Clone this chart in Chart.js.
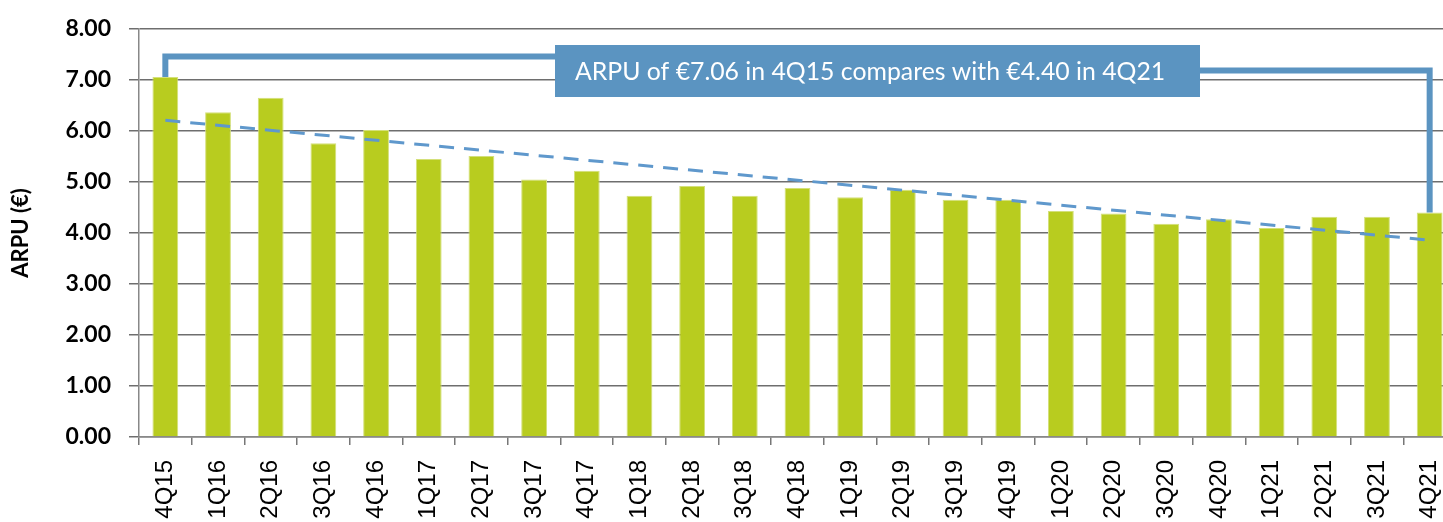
<!DOCTYPE html>
<html>
<head>
<meta charset="utf-8">
<script src="https://cdn.jsdelivr.net/npm/chart.js@4/dist/chart.umd.min.js"></script>
<style>
  html, body { margin: 0; padding: 0; background: #fff; overflow: hidden; }
  #chart { position: absolute; left: 0; top: 0; }
</style>
</head>
<body>
<canvas id="chart" width="1456" height="522"></canvas>
<script>
const quarters = ['4Q15', '1Q16', '2Q16', '3Q16', '4Q16', '1Q17', '2Q17', '3Q17', '4Q17',
  '1Q18', '2Q18', '3Q18', '4Q18', '1Q19', '2Q19', '3Q19', '4Q19', '1Q20', '2Q20', '3Q20',
  '4Q20', '1Q21', '2Q21', '3Q21', '4Q21'];
const arpu = [7.06, 6.37, 6.65, 5.76, 6.02, 5.45, 5.51, 5.05, 5.22, 4.73, 4.92, 4.73, 4.88,
  4.70, 4.85, 4.65, 4.65, 4.43, 4.38, 4.18, 4.27, 4.10, 4.32, 4.32, 4.40];
// trend line: only the two end values, joined straight
const trend = [6.21, null, null, null, null, null, null, null, null, null, null, null, null,
  null, null, null, null, null, null, null, null, null, null, null, 3.86];
const yTicks = [0, 1, 2, 3, 4, 5, 6, 7, 8];
const noteText = 'ARPU of €7.06 in 4Q15 compares with €4.40 in 4Q21';

const blue = '#5b94c1';

const bracket = {
  id: 'bracket',
  afterDraw(chart) {
    const ctx = chart.ctx;
    const x = chart.scales.x, y = chart.scales.y;
    const first = 0, last = arpu.length - 1;
    const x0 = x.getPixelForValue(first), x1 = x.getPixelForValue(last);
    const boxL = 555, boxR = 1200, boxT = 45, boxB = 97;
    const leftY = 56.5, rightY = 70.5;
    ctx.save();
    ctx.strokeStyle = blue;
    ctx.lineWidth = 6;
    ctx.beginPath();
    ctx.moveTo(x0, y.getPixelForValue(arpu[first]));
    ctx.lineTo(x0, leftY);
    ctx.lineTo(boxL, leftY);
    ctx.stroke();
    ctx.beginPath();
    ctx.moveTo(boxR, rightY);
    ctx.lineTo(x1, rightY);
    ctx.lineTo(x1, y.getPixelForValue(arpu[last]));
    ctx.stroke();
    ctx.fillStyle = blue;
    ctx.fillRect(boxL, boxT, boxR - boxL, boxB - boxT);
    ctx.fillStyle = '#fff';
    ctx.font = '24.8px Lato';
    ctx.textBaseline = 'middle';
    ctx.textAlign = 'left';
    ctx.fillText(noteText, 575, (boxT + boxB) / 2 + 1);
    ctx.restore();
  }
};

new Chart(document.getElementById('chart'), {
  data: {
    labels: quarters,
    datasets: [
      {
        type: 'line',
        data: trend,
        spanGaps: true,
        borderColor: '#5f98cc',
        borderWidth: 3,
        borderDash: [15, 10],
        pointRadius: 0,
        order: 0
      },
      {
        type: 'bar',
        data: arpu,
        backgroundColor: '#b8cc1f',
        borderColor: '#d4e07a',
        borderWidth: 1,
        categoryPercentage: 1,
        barPercentage: 0.49,
        order: 1
      }
    ]
  },
  options: {
    responsive: false,
    devicePixelRatio: 1,
    animation: false,
    layout: { padding: { top: 29, left: 0, right: 0, bottom: 0 } },
    plugins: { legend: { display: false }, tooltip: { enabled: false } },
    scales: {
      x: {
        afterFit: s => { s.height = 85; s.paddingLeft = 0; s.paddingRight = 0; },
        grid: { offset: true, drawOnChartArea: false, drawTicks: true, tickLength: 8, color: '#777', lineWidth: 1.5 },
        border: { display: true, color: '#888', width: 1.5 },
        ticks: {
          minRotation: 90, maxRotation: 90, padding: 15,
          color: '#000',
          font: { family: 'Liberation Sans', size: 24 }
        }
      },
      y: {
        min: 0, max: 8,
        afterFit: s => { s.width = 139; s.paddingTop = 0; s.paddingBottom = 0; },
        afterBuildTicks: s => { s.ticks = yTicks.map(v => ({ value: v })); },
        grid: { color: '#6e6e6e', lineWidth: 1.5, tickLength: 10, drawTicks: true },
        border: { display: true, color: '#888', width: 1.5 },
        ticks: {
          padding: 18,
          color: '#000',
          font: { family: 'Lato', weight: 'bold', size: 23 },
          callback: v => v.toFixed(2)
        },
        title: {
          display: true, text: 'ARPU (€)', color: '#000',
          font: { family: 'Lato', weight: 'bold', size: 22 },
          padding: { top: 8, bottom: 0 }
        }
      }
    }
  },
  plugins: [bracket]
});
</script>
</body>
</html>
